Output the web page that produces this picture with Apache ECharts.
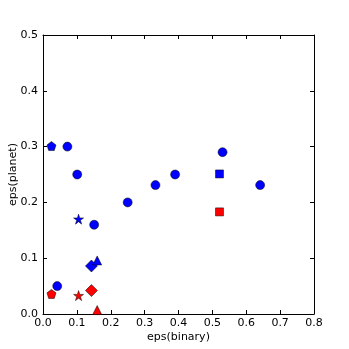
<!DOCTYPE html>
<html>
<head>
<meta charset="utf-8">
<script src="https://cdn.jsdelivr.net/npm/echarts@6/dist/echarts.min.js"></script>
<style>
html, body { margin: 0; padding: 0; background: #fff; }
#chart { width: 349px; height: 349px; }
</style>
</head>
<body>
<div id="chart"></div>
<script>
// values, [eps(binary), eps(planet)]
var blueCircles = [
    [0.072, 0.300], [0.101, 0.250], [0.151, 0.160], [0.042, 0.050],
    [0.250, 0.200], [0.332, 0.231], [0.390, 0.250], [0.530, 0.290],
    [0.641, 0.231]
];
var bluePentagons = [[0.025, 0.301]];
var redPentagons = [[0.025, 0.036]];
var blueStars = [[0.105, 0.170]];
var redStars = [[0.105, 0.033]];
var blueDiamonds = [[0.143, 0.086]];
var redDiamonds = [[0.143, 0.042]];
var blueTriangles = [[0.160, 0.096]];
var redTriangles = [[0.160, 0.007]];
var blueSquares = [[0.521, 0.251]];
var redSquares = [[0.521, 0.183]];

var xTicks = [0.0, 0.1, 0.2, 0.3, 0.4, 0.5, 0.6, 0.7, 0.8];
var yTicks = [0.0, 0.1, 0.2, 0.3, 0.4, 0.5];

var pentagon = "path://M0,-1L0.951,-0.309L0.588,0.809L-0.588,0.809L-0.951,-0.309Z";
var star = "path://M0,-1L0.225,-0.309L0.951,-0.309L0.363,0.118L0.588,0.809L0,0.382L-0.588,0.809L-0.363,0.118L-0.951,-0.309L-0.225,-0.309Z";

var myChart = echarts.init(document.getElementById("chart"));

function mk(data, symbol, size, color) {
    return {
        type: "scatter",
        data: data,
        symbol: symbol,
        symbolSize: size,
        itemStyle: {
            color: color,
            opacity: 1,
            borderColor: "#000",
            borderWidth: 0.5
        },
        z: 3
    };
}

var font = "DejaVu Sans";
var axisBase = {
    type: "value",
    axisLine: { show: true, onZero: false, lineStyle: { color: "#000", width: 1 } },
    axisTick: { show: true, inside: true, length: 4, lineStyle: { color: "#000" } },
    splitLine: { show: false }
};

myChart.setOption({
    animation: false,
    grid: { left: 43, right: 35, top: 35, bottom: 35, outerBoundsMode: "none", containLabel: false },
    xAxis: [
        Object.assign({}, axisBase, {
            min: xTicks[0], max: xTicks[xTicks.length - 1], interval: 0.1,
            name: "eps(binary)",
            nameLocation: "middle",
            nameGap: 18,
            nameMoveOverlap: false,
            nameTextStyle: { fontFamily: font, fontSize: 11, color: "#000" },
            axisLabel: {
                fontFamily: font, fontSize: 11, color: "#000", margin: 4,
                formatter: function (v) { return v.toFixed(1); }
            }
        }),
        Object.assign({}, axisBase, {
            position: "top",
            min: xTicks[0], max: xTicks[xTicks.length - 1], interval: 0.1,
            axisLabel: { show: false }
        })
    ],
    yAxis: [
        Object.assign({}, axisBase, {
            min: yTicks[0], max: yTicks[yTicks.length - 1], interval: 0.1,
            name: "eps(planet)",
            nameLocation: "middle",
            nameGap: 24,
            nameMoveOverlap: false,
            nameTextStyle: { fontFamily: font, fontSize: 11, color: "#000" },
            axisLabel: {
                fontFamily: font, fontSize: 11, color: "#000", margin: 5,
                formatter: function (v) { return v.toFixed(1); }
            }
        }),
        Object.assign({}, axisBase, {
            position: "right",
            min: yTicks[0], max: yTicks[yTicks.length - 1], interval: 0.1,
            axisLabel: { show: false }
        })
    ],
    series: [
        mk(blueCircles, "circle", 9, "#0000ff"),
        mk(bluePentagons, pentagon, 9, "#0000ff"),
        mk(redPentagons, pentagon, 9, "#ff0000"),
        mk(blueStars, star, 10, "#0000ff"),
        mk(redStars, star, 10, "#ff0000"),
        mk(blueDiamonds, "diamond", 12, "#0000ff"),
        mk(redDiamonds, "diamond", 12, "#ff0000"),
        mk(blueTriangles, "triangle", 9, "#0000ff"),
        mk(redTriangles, "triangle", 9, "#ff0000"),
        mk(blueSquares, "rect", 8, "#0000ff"),
        mk(redSquares, "rect", 8, "#ff0000")
    ]
});

window.addEventListener("resize", function () {
    myChart.resize();
});
</script>
</body>
</html>
